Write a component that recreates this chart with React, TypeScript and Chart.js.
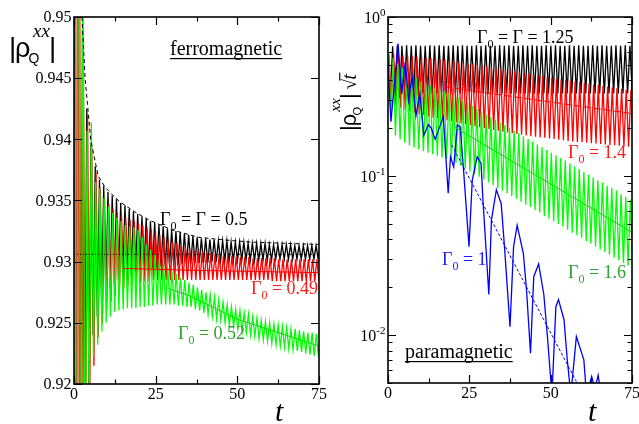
import React, { useEffect, useRef } from "react";
import { Chart, registerables } from "chart.js";

Chart.register(...registerables);

// ================= DATA =================
// ---- left panel: ferromagnetic, |rho_Q^xx| vs t ----
const ferroXTicks = [0, 25, 50, 75];
const ferroXMinor = [12.5, 37.5, 62.5];
const ferroYTicks = [0.92, 0.925, 0.93, 0.935, 0.94, 0.945, 0.95];
const ferroYLabels = ["0.92", "0.925", "0.93", "0.935", "0.94", "0.945", "0.95"];
const ferroHalfPeriod = 0.65; // time between successive extrema
const ferroStart = { black: 0, red: 0.25, green: 0.1 };

// Γ0 = Γ = 0.5 (black) – successive maxima and minima
const ferroBlackPeaks = [
  1.0, 0.98, 0.949, 0.9425, 0.9397, 0.9378, 0.9367, 0.9362, 0.9357, 0.9354,
  0.9351, 0.9348, 0.9346, 0.9343, 0.9341, 0.9339, 0.9337, 0.9335, 0.9333, 0.9332,
  0.933, 0.9329, 0.9327, 0.9326, 0.9325, 0.9324, 0.9323, 0.9322, 0.9321, 0.932,
  0.9319, 0.9319, 0.9318, 0.9318, 0.9317, 0.9317, 0.9317, 0.9316, 0.9316, 0.9316,
  0.9316, 0.9315, 0.9315, 0.9315, 0.9315, 0.9315, 0.9314, 0.9314, 0.9314, 0.9314,
  0.9314, 0.9314, 0.9313, 0.9313, 0.9313, 0.9313, 0.9313, 0.9313, 0.9313,
];
const ferroBlackTroughs = [
  0.88, 0.9, 0.913, 0.92, 0.924, 0.9255, 0.9265, 0.9272, 0.9278, 0.9282,
  0.9285, 0.9288, 0.929, 0.9291, 0.9292, 0.9293, 0.9294, 0.9294, 0.9295, 0.9295,
  0.9296, 0.9296, 0.9297, 0.9297, 0.9297, 0.9298, 0.9298, 0.9298, 0.9299, 0.9299,
  0.9299, 0.9299, 0.93, 0.93, 0.93, 0.93, 0.93, 0.93, 0.9301, 0.9301,
  0.9301, 0.9301, 0.9301, 0.9301, 0.9301, 0.9301, 0.9301, 0.9302, 0.9302, 0.9302,
  0.9302, 0.9302, 0.9302, 0.9302, 0.9302, 0.9302, 0.9302, 0.9302,
];
// Γ0 = 0.49 (red)
const ferroRedPeaks = [
  1.0, 0.975, 0.948, 0.942, 0.9393, 0.9373, 0.936, 0.9352, 0.9347, 0.9343,
  0.934, 0.9338, 0.9336, 0.9334, 0.9333, 0.9331, 0.933, 0.9328, 0.9326, 0.9324,
  0.9322, 0.932, 0.9318, 0.9316, 0.9315, 0.9313, 0.9312, 0.9311, 0.931, 0.9309,
  0.9308, 0.9307, 0.9307, 0.9306, 0.9306, 0.9305, 0.9305, 0.9305, 0.9304, 0.9304,
  0.9304, 0.9304, 0.9303, 0.9303, 0.9303, 0.9303, 0.9303, 0.9303, 0.9302, 0.9302,
  0.9302, 0.9302, 0.9302, 0.9302, 0.9302, 0.9302, 0.9302, 0.9302, 0.9302,
];
const ferroRedTroughs = [
  0.88, 0.9, 0.912, 0.918, 0.9215, 0.9238, 0.925, 0.926, 0.9267, 0.9272,
  0.9276, 0.9278, 0.928, 0.9281, 0.9282, 0.9283, 0.9284, 0.9284, 0.9285, 0.9285,
  0.9285, 0.9285, 0.9285, 0.9285, 0.9285, 0.9285, 0.9285, 0.9285, 0.9285, 0.9285,
  0.9285, 0.9285, 0.9285, 0.9285, 0.9285, 0.9285, 0.9285, 0.9285, 0.9285, 0.9285,
  0.9285, 0.9285, 0.9285, 0.9285, 0.9285, 0.9285, 0.9284, 0.9284, 0.9284, 0.9284,
  0.9284, 0.9284, 0.9284, 0.9284, 0.9284, 0.9284, 0.9284, 0.9284,
];
// Γ0 = 0.52 (green)
const ferroGreenPeaks = [
  1.0, 0.99, 0.96, 0.9407, 0.9414, 0.9365, 0.936, 0.9352, 0.9345, 0.934,
  0.9336, 0.9333, 0.933, 0.9329, 0.9328, 0.9326, 0.932, 0.9314, 0.931, 0.9306,
  0.9302, 0.9298, 0.9295, 0.9292, 0.929, 0.9287, 0.9285, 0.9283, 0.9281, 0.9279,
  0.9277, 0.9275, 0.9273, 0.9271, 0.9269, 0.9267, 0.9265, 0.9263, 0.9261, 0.926,
  0.9258, 0.9257, 0.9255, 0.9254, 0.9252, 0.9251, 0.925, 0.9249, 0.9248, 0.9247,
  0.9246, 0.9245, 0.9245, 0.9244, 0.9243, 0.9242, 0.9242, 0.9241, 0.924,
];
const ferroGreenTroughs = [
  0.87, 0.89, 0.905, 0.917, 0.9222, 0.9232, 0.9243, 0.925, 0.9255, 0.9259,
  0.926, 0.9261, 0.9262, 0.9262, 0.9262, 0.9263, 0.9263, 0.9264, 0.9264, 0.9265,
  0.9265, 0.9265, 0.9265, 0.9265, 0.9264, 0.9264, 0.9263, 0.9263, 0.9261, 0.926,
  0.9258, 0.9257, 0.9255, 0.9253, 0.9252, 0.925, 0.9248, 0.9247, 0.9245, 0.9243,
  0.9242, 0.924, 0.9239, 0.9237, 0.9236, 0.9235, 0.9233, 0.9232, 0.9231, 0.923,
  0.9229, 0.9228, 0.9227, 0.9226, 0.9225, 0.9224, 0.9223, 0.9222,
];
// envelope / fits
const ferroEnvT = [2.45, 3.4, 5.1, 7.4, 9.5, 12, 14, 19, 23, 30, 38, 45, 54, 65, 75];
const ferroEnvV = [0.95, 0.945, 0.94, 0.937, 0.9361, 0.9354, 0.9349, 0.934, 0.9334, 0.9326, 0.932, 0.9318, 0.9316, 0.9315, 0.9314];
const ferroAsymT = [0, 74.5];
const ferroAsymV = [0.9306, 0.9306];
const ferroRedFitT = [15, 35, 75];
const ferroRedFitV = [0.92945, 0.9293, 0.9291];
const ferroGreenFitT = [29, 35.5, 50, 75];
const ferroGreenFitV = [0.9278, 0.9272, 0.9253, 0.9231];

// ---- right panel: paramagnetic, |rho_Q^xx| sqrt(t) vs t (log) ----
const paraXTicks = [0, 25, 50, 75];
const paraXMinor = [12.5, 37.5, 62.5];
const paraYMajor = [1, 0.1, 0.01];
const paraYExp = ["0", "-1", "-2"];
const paraHalfPeriod = 0.715;
const paraStart = { black: 0, red: 0.3, green: 0.15 };

// Γ0 = Γ = 1.25 (black)
const paraBlackPeaks = [
  0.6, 0.655, 0.665, 0.66, 0.665, 0.66, 0.665, 0.66, 0.66, 0.665,
  0.66, 0.665, 0.66, 0.66, 0.665, 0.66, 0.665, 0.66, 0.66, 0.665,
  0.66, 0.665, 0.66, 0.66, 0.665, 0.66, 0.665, 0.66, 0.66, 0.665,
  0.66, 0.665, 0.66, 0.66, 0.665, 0.66, 0.665, 0.66, 0.66, 0.665,
  0.66, 0.665, 0.66, 0.66, 0.665, 0.66, 0.665, 0.66, 0.66, 0.665,
  0.66, 0.665, 0.66, 0.66,
];
const paraBlackTroughs = [
  0.31, 0.3, 0.31, 0.32, 0.32, 0.325, 0.325, 0.33, 0.33, 0.33,
  0.33, 0.33, 0.33, 0.33, 0.33, 0.33, 0.33, 0.33, 0.33, 0.33,
  0.33, 0.33, 0.33, 0.33, 0.33, 0.33, 0.33, 0.33, 0.33, 0.33,
  0.33, 0.33, 0.33, 0.33, 0.33, 0.33, 0.33, 0.33, 0.33, 0.33,
  0.33, 0.33, 0.33, 0.33, 0.33, 0.33, 0.33, 0.33, 0.33, 0.33,
  0.33, 0.33, 0.33,
];
// Γ0 = 1.4 (red)
const paraRedPeaks = [
  0.58, 0.585, 0.58, 0.575, 0.57, 0.566, 0.562, 0.558, 0.555, 0.552,
  0.549, 0.545, 0.54, 0.534, 0.528, 0.522, 0.516, 0.51, 0.505, 0.5,
  0.495, 0.49, 0.484, 0.478, 0.472, 0.466, 0.46, 0.455, 0.45, 0.445,
  0.44, 0.435, 0.43, 0.425, 0.42, 0.415, 0.41, 0.406, 0.402, 0.398,
  0.394, 0.39, 0.386, 0.382, 0.378, 0.374, 0.37, 0.366, 0.362, 0.358,
  0.354, 0.35, 0.346, 0.343,
];
const paraRedTroughs = [
  0.3, 0.28, 0.27, 0.262, 0.256, 0.25, 0.245, 0.241, 0.237, 0.233,
  0.23, 0.227, 0.224, 0.221, 0.218, 0.215, 0.212, 0.209, 0.206, 0.203,
  0.2, 0.198, 0.195, 0.193, 0.19, 0.188, 0.186, 0.184, 0.182, 0.18,
  0.178, 0.177, 0.175, 0.174, 0.172, 0.171, 0.169, 0.168, 0.166, 0.165,
  0.164, 0.163, 0.162, 0.161, 0.16, 0.159, 0.158, 0.157, 0.156, 0.155,
  0.154, 0.153, 0.152,
];
// Γ0 = 1.6 (green)
const paraGreenPeaks = [
  0.59, 0.55, 0.51, 0.48, 0.455, 0.43, 0.41, 0.39, 0.38, 0.37,
  0.36, 0.35, 0.34, 0.33, 0.324, 0.311, 0.299, 0.288, 0.276, 0.266,
  0.255, 0.245, 0.236, 0.226, 0.218, 0.209, 0.201, 0.193, 0.186, 0.178,
  0.171, 0.165, 0.158, 0.152, 0.146, 0.14, 0.135, 0.13, 0.125, 0.12,
  0.115, 0.111, 0.106, 0.102, 0.098, 0.094, 0.091, 0.087, 0.084, 0.081,
  0.077, 0.074, 0.071, 0.069,
];
const paraGreenTroughs = [
  0.25, 0.18, 0.17, 0.162, 0.156, 0.151, 0.147, 0.143, 0.14, 0.137,
  0.134, 0.131, 0.128, 0.125, 0.121, 0.116, 0.112, 0.107, 0.103, 0.099,
  0.095, 0.091, 0.088, 0.084, 0.081, 0.078, 0.075, 0.072, 0.069, 0.066,
  0.064, 0.061, 0.059, 0.056, 0.054, 0.052, 0.05, 0.048, 0.046, 0.044,
  0.0425, 0.041, 0.039, 0.0375, 0.036, 0.0346, 0.0333, 0.032, 0.0307, 0.0295,
  0.0284, 0.0273, 0.0262,
];
// Γ0 = 1 (blue)
const paraBlueT = [
  0, 0.9, 3.1, 4.2, 5.3, 6.3, 7.4, 8.6, 9.8, 11.0,
  12.4, 13.3, 14.5, 17.0, 18.5, 19.2, 20.2, 21.3, 22.2, 23.3,
  24.9, 25.9, 27.4, 28.6, 29.2, 31.0, 31.8, 33.3, 34.8, 35.8,
  37.5, 38.6, 39.7, 41.6, 42.6, 43.8, 44.8, 46.3, 47.9, 49.0,
  50.4, 51.6, 52.4, 54.1, 55.1, 56.2, 57.9, 60.2, 61.0, 62.6,
  63.6, 64.6, 65.6,
];
const paraBlueV = [
  0.5, 0.22, 0.68, 0.33, 0.52, 0.3, 0.42, 0.24, 0.33, 0.18,
  0.21, 0.2, 0.17, 0.236, 0.078, 0.132, 0.114, 0.209, 0.204, 0.104,
  0.036, 0.094, 0.132, 0.12, 0.07, 0.018, 0.053, 0.082, 0.067, 0.036,
  0.0113, 0.036, 0.049, 0.0327, 0.019, 0.0077, 0.0233, 0.028, 0.018, 0.0098,
  0.0042, 0.0151, 0.0167, 0.0125, 0.007, 0.0042, 0.0098, 0.007, 0.0042, 0.0055,
  0.0046, 0.0056, 0.004,
];
// fits
const paraRedFitT = [17.6, 75];
const paraRedFitV = [0.363, 0.247];
const paraGreenFitT = [20.3, 74.7];
const paraGreenFitV = [0.204, 0.0447];
const paraBlueFitT = [19.6, 57.9];
const paraBlueFitV = [0.157, 0.0051];

// ================= HELPERS =================
const SERIF = "'Liberation Serif', 'Times New Roman', serif";
const SANS = "'Liberation Sans', Arial, sans-serif";
const RIGHT_OFFSET = 320; // left edge of the right canvas on the page

type P = { x: number; y: number };
function zigzag(start: number, half: number, peaks: number[], troughs: number[]): P[] {
  const pts: P[] = [];
  const n = Math.max(peaks.length, troughs.length);
  for (let i = 0; i < n; i++) {
    if (i < peaks.length) pts.push({ x: start + 2 * i * half, y: peaks[i] });
    if (i < troughs.length) pts.push({ x: start + (2 * i + 1) * half, y: troughs[i] });
  }
  return pts;
}
function pairs(t: number[], v: number[]): P[] {
  return t.map((x, i) => ({ x, y: v[i] }));
}
function line(data: P[], color: string, width: number, dash: number[] = []) {
  return {
    data,
    borderColor: color,
    backgroundColor: color,
    borderWidth: width,
    borderDash: dash,
    pointRadius: 0,
    showLine: true,
    fill: false,
    tension: 0,
  };
}

function gammaLabel(ctx: CanvasRenderingContext2D, x: number, y: number, rest: string, color: string, size: number) {
  ctx.fillStyle = color;
  ctx.textAlign = "left";
  ctx.textBaseline = "alphabetic";
  ctx.font = `${size}px ${SERIF}`;
  ctx.fillText("Γ", x, y);
  const w = ctx.measureText("Γ").width;
  ctx.font = `${Math.round(size * 0.66)}px ${SERIF}`;
  ctx.fillText("0", x + w, y + size * 0.3);
  const w2 = ctx.measureText("0").width;
  ctx.font = `${size}px ${SERIF}`;
  ctx.fillText(rest, x + w + w2, y);
}

function underlined(ctx: CanvasRenderingContext2D, text: string, x: number, y: number, size: number) {
  ctx.fillStyle = "#000";
  ctx.textAlign = "left";
  ctx.textBaseline = "alphabetic";
  ctx.font = `${size}px ${SERIF}`;
  ctx.fillText(text, x, y);
  const w = ctx.measureText(text).width;
  ctx.fillRect(x, y + 3, w, 1.2);
}

function rhoTitle(ctx: CanvasRenderingContext2D, x: number, y: number) {
  ctx.fillStyle = "#000";
  ctx.textAlign = "left";
  ctx.textBaseline = "alphabetic";
  ctx.font = `28px ${SANS}`;
  ctx.fillText("|", x, y);
  ctx.font = `27px ${SANS}`;
  ctx.fillText("ρ", x + 6, y);
  ctx.font = `14px ${SANS}`;
  ctx.fillText("Q", x + 19.5, y + 6);
  ctx.font = `italic 19px ${SERIF}`;
  ctx.fillText("xx", x + 24, y - 20);
  ctx.font = `28px ${SANS}`;
  ctx.fillText("|", x + 40, y);
}

function frameAndTicks(chart: any, xMaj: number[], xMin: number[], yMaj: number[], yMin: number[]) {
  const { ctx, chartArea: a, scales } = chart;
  const xs = scales.x;
  const ys = scales.y;
  ctx.save();
  ctx.strokeStyle = "#000";
  ctx.lineWidth = 1.2;
  ctx.beginPath();
  const tick = (vx: number | null, vy: number | null, len: number) => {
    if (vx !== null) {
      const p = Math.round(xs.getPixelForValue(vx)) + 0.5;
      ctx.moveTo(p, a.bottom); ctx.lineTo(p, a.bottom - len);
      ctx.moveTo(p, a.top); ctx.lineTo(p, a.top + len);
    }
    if (vy !== null) {
      const p = Math.round(ys.getPixelForValue(vy)) + 0.5;
      ctx.moveTo(a.left, p); ctx.lineTo(a.left + len, p);
      ctx.moveTo(a.right, p); ctx.lineTo(a.right - len, p);
    }
  };
  xMaj.forEach((v) => tick(v, null, 8));
  xMin.forEach((v) => tick(v, null, 4.5));
  yMaj.forEach((v) => tick(null, v, 8));
  yMin.forEach((v) => tick(null, v, 4.5));
  ctx.stroke();
  ctx.lineWidth = 1.6;
  ctx.strokeRect(a.left, a.top, a.right - a.left, a.bottom - a.top);
  // x tick labels
  ctx.fillStyle = "#000";
  ctx.font = `16px ${SERIF}`;
  ctx.textAlign = "center";
  ctx.textBaseline = "alphabetic";
  xMaj.forEach((v) => ctx.fillText(String(v), xs.getPixelForValue(v), a.bottom + 15));
  // x title
  ctx.font = `italic 30px ${SERIF}`;
  ctx.textAlign = "left";
  ctx.fillText("t", a.left + (a.right - a.left) * 0.82, 421);
  ctx.restore();
}

// ---------- plugins ----------
const ferroDecor = {
  id: "ferroDecor",
  afterDraw(chart: any) {
    const { ctx, chartArea: a, scales } = chart;
    frameAndTicks(chart, ferroXTicks, ferroXMinor, ferroYTicks, []);
    ctx.save();
    ctx.fillStyle = "#000";
    ctx.font = `16px ${SERIF}`;
    ctx.textAlign = "right";
    ctx.textBaseline = "middle";
    ferroYTicks.forEach((v, i) => ctx.fillText(ferroYLabels[i], a.left - 2.5, scales.y.getPixelForValue(v) + 1));
    rhoTitle(ctx, 9, 57);
    underlined(ctx, "ferromagnetic", 170, 55, 20);
    gammaLabel(ctx, 160, 224.5, " = Γ = 0.5", "#000", 18);
    gammaLabel(ctx, 251, 294, " = 0.49", "#ff1a1a", 18);
    gammaLabel(ctx, 178, 338.5, " = 0.52", "#2f9f2f", 18);
    ctx.restore();
  },
};

const paraDecor = {
  id: "paraDecor",
  beforeDatasetsDraw(chart: any) {
    const { ctx } = chart;
    ctx.save();
    gammaLabel(ctx, 442 - RIGHT_OFFSET, 91, " = 0", "#c040d8", 14);
    ctx.restore();
  },
  afterDraw(chart: any) {
    const { ctx, chartArea: a, scales } = chart;
    const minors: number[] = [];
    [0.001, 0.01, 0.1].forEach((d) => {
      for (let m = 2; m <= 9; m++) {
        const v = m * d;
        if (v >= 0.005 && v < 1) minors.push(v);
      }
    });
    frameAndTicks(chart, paraXTicks, paraXMinor, paraYMajor, minors);
    ctx.save();
    ctx.fillStyle = "#000";
    ctx.textBaseline = "alphabetic";
    paraYMajor.forEach((v, i) => {
      const y = scales.y.getPixelForValue(v);
      const right = a.left - 2.5;
      ctx.font = `11px ${SERIF}`;
      ctx.textAlign = "right";
      const ew = ctx.measureText(paraYExp[i]).width;
      ctx.fillText(paraYExp[i], right, y - 1);
      ctx.font = `16px ${SERIF}`;
      ctx.fillText("10", right - ew, y + 6);
    });
    // rotated title
    ctx.save();
    ctx.translate(356 - RIGHT_OFFSET, 131);
    ctx.rotate(-Math.PI / 2);
    ctx.scale(0.8, 0.8);
    rhoTitle(ctx, 0, 0);
    ctx.font = `24px ${SERIF}`;
    ctx.fillText("√", 52, 0);
    ctx.font = `italic 26px ${SERIF}`;
    ctx.fillText("t", 64, 0);
    ctx.fillRect(63, -21, 10, 1.4);
    ctx.restore();
    gammaLabel(ctx, 477 - RIGHT_OFFSET, 43, " = Γ = 1.25", "#000", 18);
    gammaLabel(ctx, 568 - RIGHT_OFFSET, 158, " = 1.4", "#ff1a1a", 18);
    gammaLabel(ctx, 568 - RIGHT_OFFSET, 278, " = 1.6", "#2f9f2f", 18);
    gammaLabel(ctx, 442 - RIGHT_OFFSET, 265, " = 1", "#1a1aff", 18);
    underlined(ctx, "paramagnetic", 405 - RIGHT_OFFSET, 358, 20);
    ctx.restore();
  },
};

// ================= COMPONENT =================
export default function App() {
  const leftRef = useRef<HTMLCanvasElement>(null);
  const rightRef = useRef<HTMLCanvasElement>(null);

  useEffect(() => {
    const common = {
      animation: false as const,
      responsive: false,
      events: [] as any[],
      plugins: { legend: { display: false }, tooltip: { enabled: false } },
    };
    const left = new Chart(leftRef.current!, {
      type: "scatter",
      data: {
        datasets: [
          line(pairs(ferroEnvT, ferroEnvV), "#000", 1, [4, 3]),
          line(pairs(ferroAsymT, ferroAsymV), "#000", 1, [1, 2]),
          line(pairs(ferroRedFitT, ferroRedFitV), "#ff0000", 1),
          line(pairs(ferroGreenFitT, ferroGreenFitV), "#00dd00", 1),
          line(zigzag(ferroStart.green, ferroHalfPeriod, ferroGreenPeaks, ferroGreenTroughs), "#00ff00", 1.3),
          line(zigzag(ferroStart.red, ferroHalfPeriod, ferroRedPeaks, ferroRedTroughs), "#ff0000", 1.3),
          line(zigzag(ferroStart.black, ferroHalfPeriod, ferroBlackPeaks, ferroBlackTroughs), "#000000", 1.3),
        ] as any,
      },
      options: {
        ...common,
        layout: { padding: { left: 74, right: 11, top: 17, bottom: 40 } },
        scales: {
          x: { type: "linear", min: 0, max: 75, display: false },
          y: { type: "linear", min: 0.92, max: 0.95, display: false },
        },
      } as any,
      plugins: [ferroDecor],
    });
    const right = new Chart(rightRef.current!, {
      type: "scatter",
      data: {
        datasets: [
          line(pairs(paraBlueFitT, paraBlueFitV), "#0000ff", 1, [3, 2]),
          line(pairs(paraRedFitT, paraRedFitV), "#ff0000", 1, [7, 3]),
          line(pairs(paraGreenFitT, paraGreenFitV), "#00dd00", 1),
          line(pairs(paraBlueT, paraBlueV), "#0000ff", 1.3),
          line(zigzag(paraStart.green, paraHalfPeriod, paraGreenPeaks, paraGreenTroughs), "#00ff00", 1.3),
          line(zigzag(paraStart.red, paraHalfPeriod, paraRedPeaks, paraRedTroughs), "#ff0000", 1.3),
          line(zigzag(paraStart.black, paraHalfPeriod, paraBlackPeaks, paraBlackTroughs), "#000000", 1.3),
        ] as any,
      },
      options: {
        ...common,
        layout: { padding: { left: 68, right: 7, top: 17, bottom: 41 } },
        scales: {
          x: { type: "linear", min: 0, max: 75, display: false },
          y: { type: "logarithmic", min: 0.005, max: 1, display: false },
        },
      } as any,
      plugins: [paraDecor],
    });
    return () => {
      left.destroy();
      right.destroy();
    };
  }, []);

  return (
    <div style={{ position: "fixed", left: 0, top: 0, width: 639, height: 424, background: "#fff", overflow: "hidden" }}>
      <canvas ref={leftRef} width={330} height={424} style={{ position: "absolute", left: 0, top: 0, width: 330, height: 424 }} />
      <canvas ref={rightRef} width={319} height={424} style={{ position: "absolute", left: RIGHT_OFFSET, top: 0, width: 319, height: 424 }} />
    </div>
  );
}
